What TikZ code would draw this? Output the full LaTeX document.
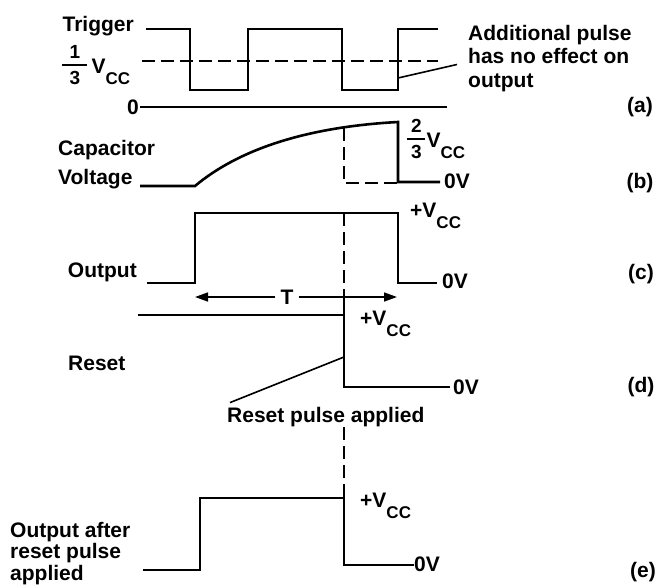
\documentclass[tikz,border=0pt]{standalone}
\usepackage{fontspec}
\setmainfont{Liberation Sans}
\usepackage{amsmath}
\usetikzlibrary{arrows.meta}

% supply voltage with its subscript
\newcommand{\vcc}{V\raisebox{-11pt}{\fontsize{17}{17}\selectfont CC}}
% small stacked fraction in the label font
\newcommand{\fracof}[3][22pt]{\raisebox{3pt}{$\genfrac{}{}{1.4pt}{1}%
  {\mbox{\fontsize{19}{19}\selectfont\rule[-4.6pt]{0pt}{4.6pt}\makebox[#1]{#2}}}%
  {\mbox{\fontsize{19}{19}\selectfont\rule{0pt}{17.2pt}\makebox[#1]{#3}}}$}}

\begin{document}
\begin{tikzpicture}[x=1pt, y=-1pt,
    wave/.style={line width=2.6pt},
    guide/.style={line width=2.2pt, dash pattern=on 13pt off 6pt},
    leader/.style={line width=1.6pt},
    lbl/.style={inner sep=0pt, font=\fontsize{21}{23.5}\selectfont\bfseries}]
  \useasboundingbox (0,0) rectangle (660,584);

  % (a) trigger
  \draw[wave] (146,29) -- (190,29) -- (190,90) -- (248,90) -- (248,29) -- (342,29)
    -- (342,90) -- (398,90) -- (398,29) -- (438,29);
  \draw[guide] (142,61) -- (438,61);
  \draw[wave] (140,107) -- (447,107);
  \node[lbl, anchor=base east] (trig) at (134,31) {Trigger};
  \node[lbl, anchor=base west] (third) at (61,73) {\fracof[25pt]{1}{3}\hspace{3pt}\vcc};
  \node[lbl, anchor=base east] (zero) at (139,114) {0};
  \node[lbl, anchor=north west, align=left] (addnote) at (468,25)
    {Additional pulse\\has no effect on\\output};
  \draw[leader] (398,78) -- ([shift={(-11,6)}]addnote.west);
  \node[lbl, anchor=base] (capa) at (640,112) {(a)};

  % (b) capacitor voltage
  \draw[wave] (140,186) -- (195,186) .. controls (238,150) and (305,127) .. (398,122)
    -- (398,182) -- (440,182);
  \draw[guide] (344,128) -- (344,183) -- (398,183);
  \node[lbl, anchor=base west] (capl) at (58,155) {Capacitor};
  \node[lbl, anchor=base west] (voll) at (58,184) {Voltage};
  \node[lbl, anchor=base west] (twothird) at (406,147) {\fracof[18pt]{2}{3}\vcc};
  \node[lbl, anchor=base west] (zerob) at (444,188) {0V};
  \node[lbl, anchor=base] (capb) at (640,188) {(b)};

  % (c) output
  \draw[wave] (147,283) -- (195,283) -- (195,213) -- (398,213) -- (398,283) -- (437,283);
  \draw[guide] (344,213) -- (344,297);
  \node[lbl, inner sep=5pt] (tper) at (287,297) {T};
  \draw[leader, -{Triangle[length=13pt,width=9pt]}] (tper) -- (195,297);
  \draw[leader, -{Triangle[length=13pt,width=9pt]}] (tper) -- (397,297);
  \node[lbl, anchor=base east] (outl) at (137,277) {Output};
  \node[lbl, anchor=base west] (vccc) at (410,217) {+\vcc};
  \node[lbl, anchor=base west] (zeroc) at (442,288) {0V};
  \node[lbl, anchor=base] (capc) at (641,279) {(c)};

  % (d) reset
  \draw[wave] (344,297) -- (344,315);
  \draw[wave] (138,315) -- (344,315) -- (344,387) -- (450,387);
  \node[lbl, anchor=base west] (resl) at (68,370) {Reset};
  \node[lbl, anchor=base west] (vccd) at (360,325) {+\vcc};
  \node[lbl, anchor=base west] (zerod) at (453,394) {0V};
  \node[lbl, anchor=base] (capd) at (641,392) {(d)};
  \node[lbl, anchor=base west] (rpa) at (227,422) {Reset pulse applied};
  \draw[leader] (344,357) -- ([shift={(3,-4)}]rpa.north west);

  % (e) output after reset
  \draw[guide] (344,427) -- (344,498);
  \draw[wave] (143,570) -- (200,570) -- (200,498) -- (344,498) -- (344,565) -- (414,565);
  \node[lbl, anchor=north west, align=left, font=\fontsize{21}{21.5}\selectfont\bfseries]
    (outafter) at (10,522) {Output after\\reset pulse\\applied};
  \node[lbl, anchor=base west] (vcce) at (360,507) {+\vcc};
  \node[lbl, anchor=base west] (zeroe) at (414,571) {0V};
  \node[lbl, anchor=base] (cape) at (643,577) {(e)};
\end{tikzpicture}
\end{document}
